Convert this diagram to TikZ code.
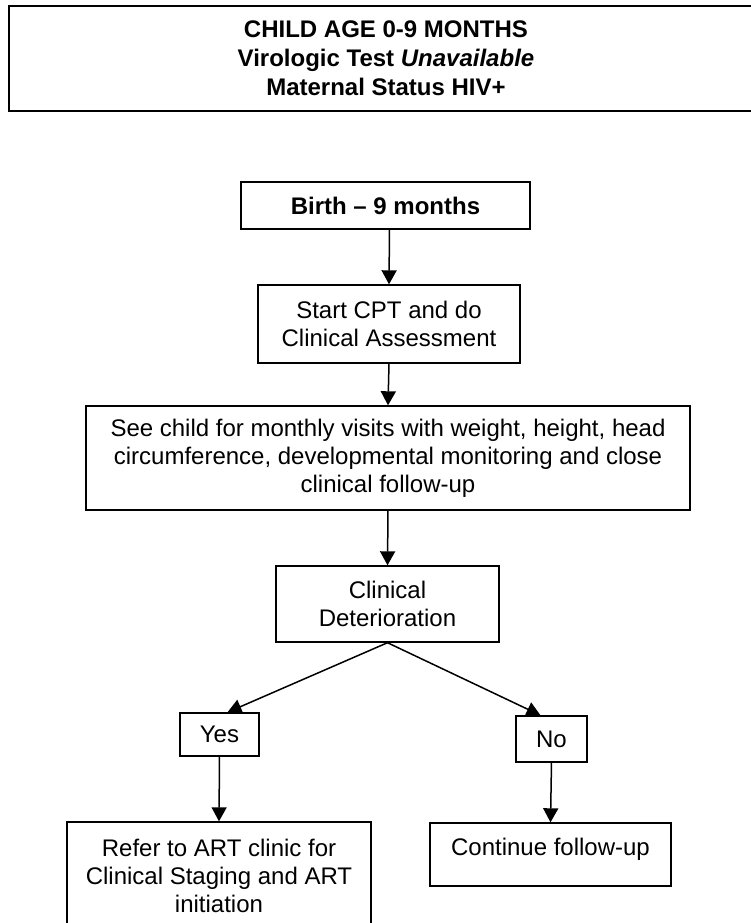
\documentclass[tikz,border=0pt]{standalone}
\usepackage{fontspec}
\setmainfont{Liberation Sans}
\usetikzlibrary{arrows.meta}
\begin{document}
\begin{tikzpicture}[x=0.5pt,y=-0.5pt,
  box/.style={draw, line width=0.7pt, inner sep=0pt, align=center, font=\fontsize{12}{14}\selectfont},
  arr/.style={line width=0.75pt, -{Triangle[width=7.5pt,length=7pt]}}]
\clip (0,0) rectangle (751,923);
\node[box, line width=1.2pt, minimum width=377pt, minimum height=52.5pt, font=\bfseries\fontsize{12}{14.5}\selectfont] (title) at (386,58.5) {CHILD AGE 0-9 MONTHS\\Virologic Test \textit{Unavailable}\\Maternal Status HIV+};
\node[box, minimum width=144.5pt, minimum height=23.5pt, font=\bfseries\fontsize{12}{14}\selectfont] (birth) at (385.5,205.5) {Birth – 9 months};
\node[box, minimum width=131pt, minimum height=39pt] (start) at (389,324) {Start CPT and do\\Clinical Assessment};
\node[box, minimum width=302pt, minimum height=52pt] (see) at (388,458) {See child for monthly visits with weight, height, head\\circumference, developmental monitoring and close\\clinical follow-up};
\node[box, minimum width=111.5pt, minimum height=38pt] (clinical) at (387.5,604) {Clinical\\Deterioration};
\node[box, minimum width=39.5pt, minimum height=21.5pt] (yes) at (219.5,734.5) {Yes};
\node[box, minimum width=35.5pt, minimum height=23pt] (no) at (551.5,739) {No};
\node[box, minimum width=152pt, minimum height=54pt] (refer) at (219,876) {Refer to ART clinic for\\Clinical Staging and ART\\initiation};
\node[box, minimum width=120.5pt, minimum height=31.5pt, text height=8.8pt, text depth=7.5pt] (continue) at (550.5,854.5) {Continue follow-up};
\draw[arr] ([xshift=2pt]birth.south) -- (start.north);
\draw[arr] (start.south) -- (see.north);
\draw[arr] (see.south) -- (clinical.north);
\draw[arr] (clinical.south) -- ([xshift=4pt]yes.north);
\draw[arr] (clinical.south) -- ([xshift=-5.5pt]no.north);
\draw[arr] (yes.south) -- (refer.north);
\draw[arr] (no.south) -- (continue.north);
\end{tikzpicture}
\end{document}
